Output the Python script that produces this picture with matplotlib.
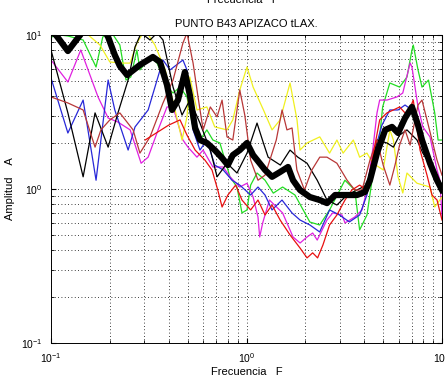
import numpy as np
import matplotlib
matplotlib.use("Agg")
import matplotlib.pyplot as plt

plt.rcParams['font.family'] = ['Liberation Sans', 'DejaVu Sans']
plt.rcParams['mathtext.fontset'] = 'custom'
plt.rcParams['mathtext.rm'] = 'Liberation Sans'

# H/V spectral ratio curves (freq in Hz, amplitude)
green_f = [0.100, 0.111, 0.122, 0.146, 0.170, 0.184, 0.200, 0.225, 0.242, 0.256, 0.275, 0.285,
           0.321, 0.349, 0.392, 0.421, 0.457, 0.496, 0.533, 0.578, 0.627, 0.673, 0.731, 0.823,
           0.894, 0.948, 1.006, 1.05, 1.132, 1.244, 1.371, 1.53, 1.77, 2.109, 2.368, 2.66,
           3.186, 3.58, 3.79, 4.133, 4.44, 4.80, 4.97, 5.41, 6.07, 6.622, 7.02, 7.13, 7.54,
           7.90, 8.53, 9.18, 9.55, 10.0]
green_a = [9.7, 10.0, 9.85, 9.28, 6.2, 9.7, 10.8, 8.61, 5.10, 5.34, 7.99, 5.93,
           7.2, 6.57, 4.59, 4.2, 4.59, 3.96, 2.53, 2.08, 2.42, 2.08, 1.99, 1.20,
           1.03, 0.70, 0.731, 1.06, 1.27, 1.14, 0.94, 1.03, 0.914, 0.61, 0.584, 0.731,
           1.14, 0.985, 0.542, 0.678, 1.27, 2.18, 3.41, 4.88, 4.59, 5.34, 7.99, 8.61, 5.93,
           4.59, 5.10, 3.12, 2.08, 2.08]

magenta_f = [0.100, 0.122, 0.142, 0.174, 0.196, 0.220, 0.254, 0.289, 0.314, 0.353, 0.392, 0.421,
             0.473, 0.502, 0.558, 0.60, 0.673, 0.76, 0.823, 0.924, 1.006, 1.081, 1.145, 1.168,
             1.21, 1.31, 1.53, 1.73, 1.88, 2.04, 2.18, 2.30, 2.58, 2.76, 3.08, 3.19, 3.58,
             3.90, 4.13, 4.44, 4.65, 4.80, 5.23, 5.88, 6.30, 6.87, 7.02, 7.54, 7.98, 8.68,
             9.43, 9.76, 10.0]
magenta_a = [6.88, 4.95, 7.99, 3.96, 2.89, 2.72, 2.42, 1.47, 1.61, 2.42, 3.41, 3.41,
             2.08, 1.87, 1.61, 1.79, 1.39, 1.39, 1.20, 1.03, 1.09, 0.887, 0.658, 0.488,
             0.602, 0.848, 0.699, 0.488, 0.446, 0.488, 0.518, 0.466, 0.629, 0.699, 0.678, 0.602, 0.658,
             0.731, 0.985, 1.87, 3.12, 3.78, 3.78, 3.96, 4.20, 6.58, 6.2, 3.41, 2.53, 2.18,
             1.33, 1.14, 0.658]

blue_f = [0.100, 0.122, 0.146, 0.170, 0.196, 0.212, 0.248, 0.269, 0.314, 0.374, 0.406, 0.473,
          0.496, 0.533, 0.578, 0.627, 0.688, 0.76, 0.843, 0.924, 1.05, 1.145, 1.244, 1.351,
          1.519, 1.709, 1.878, 2.109, 2.368, 2.66, 2.99, 3.36, 3.79, 4.13, 4.54, 4.93, 5.41,
          5.96, 6.47, 7.02, 7.72, 8.38, 9.18, 10.0]
blue_a = [5.26, 2.31, 3.78, 1.14, 5.10, 3.26, 1.79, 2.53, 3.26, 6.88, 5.93, 6.88,
          5.93, 2.42, 1.79, 2.08, 1.43, 1.33, 1.14, 1.06, 0.914, 1.03, 0.914, 0.731,
          0.848, 0.699, 0.629, 0.584, 0.526, 0.731, 0.678, 0.611, 0.678, 0.914, 1.79, 2.60, 3.26,
          3.26, 3.51, 3.26, 2.24, 1.79, 1.33, 0.985]

yellow_f = [0.100, 0.141, 0.178, 0.200, 0.234, 0.254, 0.275, 0.303, 0.340, 0.384, 0.431, 0.468,
            0.496, 0.513, 0.558, 0.627, 0.688, 0.795, 0.851, 0.924, 1.006, 1.081, 1.221, 1.351,
            1.486, 1.67, 1.813, 1.878, 2.04, 2.37, 2.66, 2.90, 3.12, 3.52, 3.79, 4.13, 4.44,
            5.00, 5.41, 5.64, 5.96, 6.30, 6.62, 7.45, 8.68, 9.18, 10.0]
yellow_a = [11.7, 11.1, 8.61, 6.68, 6.57, 6.57, 8.87, 10.8, 8.61, 5.93, 3.26, 2.08,
            2.94, 5.34, 3.26, 3.41, 2.53, 2.42, 2.81, 4.39, 6.2, 4.59, 3.26, 2.42,
            2.81, 4.88, 2.81, 1.79, 1.99, 2.18, 1.71, 2.08, 1.71, 2.08, 1.61, 1.71, 1.47,
            1.33, 2.42, 2.08, 1.20, 0.942, 1.27, 1.09, 1.03, 0.764, 0.887]

black_f = [0.100, 0.122, 0.146, 0.168, 0.196, 0.220, 0.248, 0.269, 0.289, 0.321, 0.349, 0.374,
           0.421, 0.468, 0.513, 0.578, 0.653, 0.707, 0.795, 0.894, 1.006, 1.132, 1.22, 1.29,
           1.49, 1.67, 1.83, 2.04, 2.30, 2.58, 2.90, 3.27, 3.67, 4.13, 4.65, 5.23, 5.64,
           6.07, 6.62, 7.45, 7.98, 9.05, 10.0]
black_a = [7.99, 3.12, 1.20, 3.12, 1.87, 3.12, 5.10, 8.36, 10.3, 9.28, 10.3, 9.28,
           4.59, 3.02, 3.78, 2.68, 1.79, 1.20, 1.47, 1.27, 1.71, 2.68, 1.99, 1.61,
           1.43, 1.79, 1.61, 1.47, 1.14, 0.848, 0.787, 0.914, 0.985, 1.06, 2.08, 1.99, 1.87,
           2.24, 2.42, 2.08, 1.71, 1.33, 1.06]

brown_f = [0.100, 0.122, 0.146, 0.168, 0.180, 0.200, 0.225, 0.263, 0.285, 0.321, 0.374, 0.421,
           0.473, 0.496, 0.533, 0.565, 0.60, 0.653, 0.707, 0.75, 0.795, 0.851, 0.924, 0.98,
           1.05, 1.145, 1.244, 1.42, 1.52, 1.61, 1.71, 1.81, 1.98, 2.16, 2.37, 2.58, 2.90,
           3.27, 3.58, 3.90, 4.28, 4.65, 5.0, 5.41, 5.75, 6.07, 6.47, 6.87, 7.28, 7.54, 7.90,
           8.38, 8.89, 9.43, 10.0]
brown_a = [3.96, 3.62, 3.26, 1.87, 2.42, 2.81, 3.12, 2.42, 1.71, 2.18, 3.62, 5.10,
           8.87, 10.3, 6.57, 3.96, 2.42, 3.41, 2.94, 3.78, 2.18, 2.08, 4.39, 3.02,
           1.54, 1.14, 1.23, 2.08, 3.26, 2.42, 2.49, 1.33, 0.985, 1.33, 1.61, 1.61, 1.47,
           1.14, 0.985, 0.985, 1.54, 2.08, 1.43, 1.06, 1.43, 1.93, 2.42, 1.93, 2.81, 3.51, 3.78,
           2.81, 2.08, 1.54, 1.23]

red_f = [0.303, 0.40, 0.457, 0.496, 0.546, 0.613, 0.666, 0.713, 0.75, 0.803, 0.88, 0.948,
         1.05, 1.145, 1.244, 1.351, 1.486, 1.67, 1.878, 2.04, 2.18, 2.31, 2.46, 2.66, 2.90,
         3.19, 3.46, 3.79, 4.13, 4.39, 4.80, 5.23, 5.64, 6.07, 6.62, 7.13, 7.72, 8.38, 8.89,
         9.43, 10.0]
red_a = [2.08, 2.6, 2.81, 2.24, 1.79, 1.54, 1.33, 0.985, 0.764, 0.914, 1.06, 0.848,
         0.731, 0.848, 0.678, 0.787, 0.629, 0.503, 0.414, 0.357, 0.385, 0.357, 0.433, 0.584, 0.678,
         0.848, 0.985, 1.06, 0.985, 1.54, 2.81, 3.12, 3.26, 3.41, 3.02, 3.78, 1.79, 1.23, 0.914,
         0.848, 0.629]

# smoothed average (thick black)
mean_f = [0.100, 0.106, 0.122, 0.141, 0.158, 0.178, 0.196, 0.212, 0.225, 0.245, 0.285, 0.332,
          0.361, 0.392, 0.416, 0.446, 0.484, 0.513, 0.546, 0.578, 0.627, 0.688, 0.750, 0.803,
          0.851, 0.924, 1.006, 1.081, 1.168, 1.244, 1.351, 1.486, 1.631, 1.730, 1.878, 2.109,
          2.368, 2.581, 2.839, 3.186, 3.674, 4.036, 4.281, 4.650, 5.121, 5.549, 5.963, 6.471,
          7.022, 7.539, 7.900, 8.682, 9.428, 10.0]
mean_a = [10.5, 10.0, 7.87, 10.0, 13.0, 12.0, 9.7, 7.41, 6.29, 5.50, 6.39, 7.20,
          6.68, 4.74, 3.26, 3.78, 5.75, 4.08, 2.49, 2.08, 1.99, 1.79, 1.59, 1.43,
          1.66, 1.79, 1.99, 1.66, 1.47, 1.33, 1.20, 1.29, 1.39, 1.14, 0.985, 0.887,
          0.848, 0.81, 0.914, 0.914, 0.914, 0.956, 1.14, 1.71, 2.42, 2.53, 2.31, 2.89,
          3.41, 2.60, 2.08, 1.47, 1.14, 0.985]

curves = [
    (green_f, green_a, '#22dd22'),
    (magenta_f, magenta_a, '#e020e0'),
    (blue_f, blue_a, '#2828d8'),
    (yellow_f, yellow_a, '#f0f020'),
    (black_f, black_a, 'k'),
    (brown_f, brown_a, '#b83838'),
    (red_f, red_a, '#e81010'),
]

fig = plt.figure(figsize=(4.45, 3.79), dpi=100)
ax = fig.add_axes([51 / 445, 1 - 343 / 379, 391 / 445, 308 / 379])

for f, a, c in curves:
    ax.plot(f, a, color=c, linewidth=0.9)
ax.plot(mean_f, mean_a, color='k', linewidth=4.5, solid_joinstyle='round')

ax.set_xscale('log')
ax.set_yscale('log')
ax.set_xlim(0.1, 10)
ax.set_ylim(0.1, 10)
ax.grid(True, which='both', linestyle=(0, (1, 3)), color='k', linewidth=0.6)
ax.tick_params(which='both', direction='in', top=True, right=True, labelsize=7.5, pad=6)
for s in ax.spines.values():
    s.set_linewidth(0.7)

ax.set_title('PUNTO B43 APIZACO tLAX.', fontsize=8, pad=6)
ax.set_xlabel('Frecuencia   F', fontsize=8, labelpad=1)
ax.set_ylabel('Amplitud    A', fontsize=8, labelpad=4)
fig.text(0.545, 1.0, 'Frecuencia   F', fontsize=8, ha='center', va='center')

fig.savefig('out.png', dpi=100)
